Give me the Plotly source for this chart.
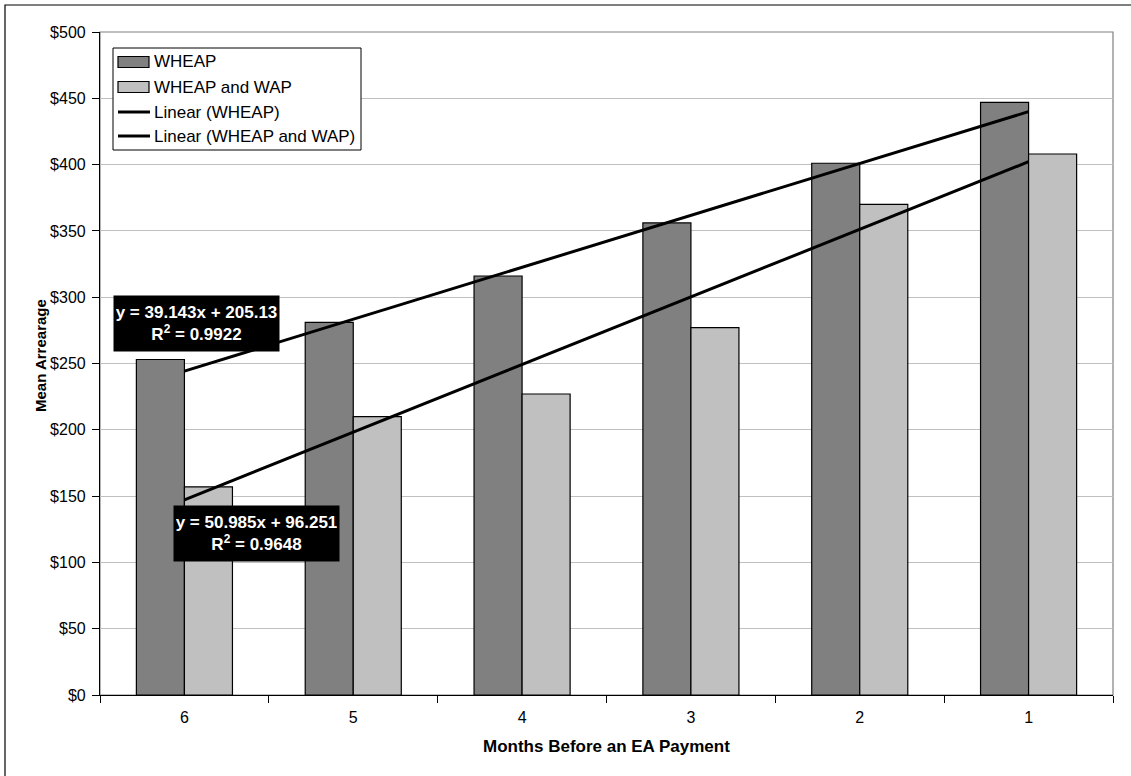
import plotly.graph_objects as go

# Months before an EA payment (x categories) and mean arrearage by group
months = ["6", "5", "4", "3", "2", "1"]
wheap = [253, 281, 316, 356, 401, 447]
wheap_wap = [157, 210, 227, 277, 370, 408]

# Linear trendline fits (x = 1..6 across the categories)
trend_wheap = {"slope": 39.143, "intercept": 205.13, "r2": 0.9922}
trend_wap = {"slope": 50.985, "intercept": 96.251, "r2": 0.9648}

y_ticks = [0, 50, 100, 150, 200, 250, 300, 350, 400, 450, 500]

FONT = "Liberation Sans, Arial, sans-serif"
W, H = 1131, 776
ML, MR, MT, MB = 100, 18, 32, 81
PW, PH = W - ML - MR, H - MT - MB


def px(x):
    return (x - ML) / PW


def py(y):
    return (H - MB - y) / PH


def trend(fit):
    return [fit["slope"] * (i + 1) + fit["intercept"] for i in range(len(months))]


fig = go.Figure()
fig.add_trace(go.Bar(x=months, y=wheap, name="WHEAP",
                     marker=dict(color="#808080", line=dict(color="#000000", width=1.2)),
                     showlegend=False))
fig.add_trace(go.Bar(x=months, y=wheap_wap, name="WHEAP and WAP",
                     marker=dict(color="#c0c0c0", line=dict(color="#000000", width=1.2)),
                     showlegend=False))
fig.add_trace(go.Scatter(x=months, y=trend(trend_wheap), mode="lines",
                         name="Linear (WHEAP)", line=dict(color="#000000", width=3),
                         showlegend=False))
fig.add_trace(go.Scatter(x=months, y=trend(trend_wap), mode="lines",
                         name="Linear (WHEAP and WAP)", line=dict(color="#000000", width=3),
                         showlegend=False))

shapes = []
# outer chart frame
shapes.append(dict(type="rect", xref="paper", yref="paper",
                   x0=px(5), x1=px(W + 20), y0=py(H + 20), y1=py(5),
                   line=dict(color="#000000", width=1.2), fillcolor="rgba(0,0,0,0)",
                   layer="below"))
# plot area border (top/right grey)
shapes.append(dict(type="rect", xref="paper", yref="paper",
                   x0=0, x1=1, y0=0, y1=1,
                   line=dict(color="#808080", width=1.2), fillcolor="rgba(0,0,0,0)",
                   layer="below"))

# legend box
shapes.append(dict(type="rect", xref="paper", yref="paper",
                   x0=px(113), x1=px(361), y0=py(150), y1=py(48),
                   line=dict(color="#000000", width=1), fillcolor="#ffffff",
                   layer="above"))
legend_rows = [
    ("WHEAP", "bar", "#808080", 62),
    ("WHEAP and WAP", "bar", "#c0c0c0", 87),
    ("Linear (WHEAP)", "line", "#000000", 112),
    ("Linear (WHEAP and WAP)", "line", "#000000", 136),
]
annotations = []
for label, kind, color, yc in legend_rows:
    if kind == "bar":
        shapes.append(dict(type="rect", xref="paper", yref="paper",
                           x0=px(118), x1=px(149), y0=py(yc + 5.5), y1=py(yc - 5.5),
                           line=dict(color="#000000", width=1.2), fillcolor=color,
                           layer="above"))
    else:
        shapes.append(dict(type="line", xref="paper", yref="paper",
                           x0=px(118), x1=px(150), y0=py(yc), y1=py(yc),
                           line=dict(color=color, width=3), layer="above"))
    annotations.append(dict(xref="paper", yref="paper", x=px(152), y=py(yc),
                            xanchor="left", yanchor="middle", showarrow=False,
                            text=label, font=dict(family=FONT, size=17, color="#000000")))


def eq_label(fit):
    return (f"y = {fit['slope']:.3f}x + {fit['intercept']:g}<br>"
            f"R<sup>2</sup> = {fit['r2']:.4f}")


for fit, cx, cy in [(trend_wheap, 196.5, 323.5), (trend_wap, 256.5, 533.5)]:
    annotations.append(dict(xref="paper", yref="paper", x=px(cx), y=py(cy),
                            xanchor="center", yanchor="middle", showarrow=False,
                            text=f"<b>{eq_label(fit)}</b>", align="center",
                            bgcolor="#000000", borderpad=2, width=161, height=51,
                            font=dict(family=FONT, size=17, color="#ffffff")))

# axis titles
annotations.append(dict(xref="paper", yref="paper", x=0.5, y=py(746),
                        xanchor="center", yanchor="middle", showarrow=False,
                        text="<b>Months Before an EA Payment</b>",
                        font=dict(family=FONT, size=17, color="#000000")))
annotations.append(dict(xref="paper", yref="paper", x=px(40), y=py(356),
                        xanchor="center", yanchor="middle", showarrow=False,
                        textangle=-90, text="<b>Mean Arrearage</b>",
                        font=dict(family=FONT, size=15, color="#000000")))

fig.update_layout(
    width=W, height=H,
    margin=dict(l=ML, r=MR, t=MT, b=MB, pad=0),
    paper_bgcolor="#ffffff", plot_bgcolor="#ffffff",
    barmode="group", bargap=0.431, bargroupgap=0,
    shapes=shapes, annotations=annotations,
    showlegend=False,
    font=dict(family=FONT, size=16, color="#000000"),
)
fig.update_xaxes(type="category", categoryorder="array", categoryarray=months,
                 showline=True, linecolor="#000000", linewidth=1.2,
                 ticks="outside", ticklen=7, tickcolor="#000000", tickwidth=1,
                 tickson="boundaries", ticklabelstandoff=8,
                 showgrid=False, zeroline=False,
                 tickfont=dict(family=FONT, size=16, color="#000000"))
fig.update_yaxes(range=[0, 500], tickvals=y_ticks, ticktext=[f"${v}" for v in y_ticks],
                 showline=True, linecolor="#000000", linewidth=1.2,
                 ticks="outside", ticklen=7, tickcolor="#000000", tickwidth=1,
                 ticklabelstandoff=3,
                 showgrid=True, gridcolor="#c0c0c0", gridwidth=1, zeroline=False,
                 tickfont=dict(family=FONT, size=16, color="#000000"))

fig.write_html("out.html")
